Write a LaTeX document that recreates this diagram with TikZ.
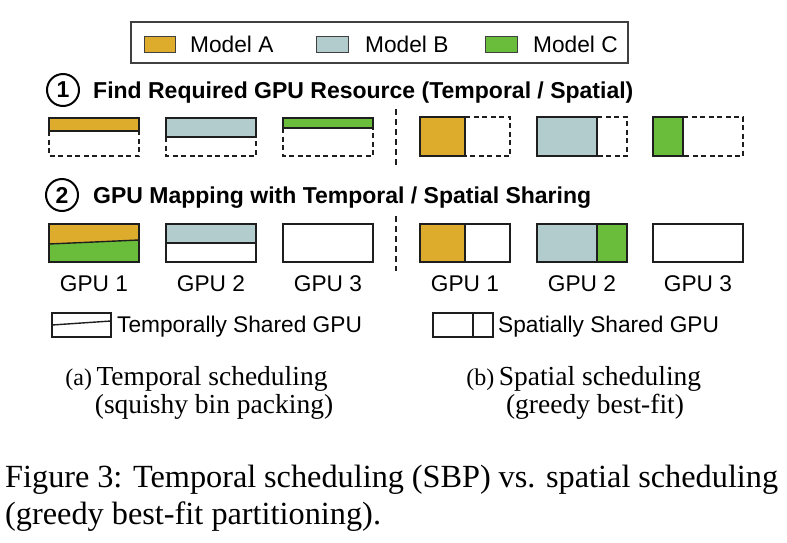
\documentclass[tikz,border=0pt]{standalone}
\usepackage{fontspec}
\setmainfont{Liberation Serif}
\setsansfont{Liberation Sans}
\definecolor{modelA}{RGB}{222,172,44}
\definecolor{modelB}{RGB}{178,204,206}
\definecolor{modelC}{RGB}{106,189,58}
\definecolor{edge}{RGB}{30,30,30}
\newcommand{\sansfs}{\sffamily\fontsize{22.7}{27}\selectfont}
\newcommand{\headfs}{\sffamily\bfseries\fontsize{23}{27}\selectfont}
\newcommand{\subfs}{\rmfamily\fontsize{27.5}{28}\selectfont}
\newcommand{\tagfs}{\rmfamily\fontsize{24}{26}\selectfont}
\newcommand{\capfs}{\rmfamily\fontsize{32.3}{36}\selectfont}

\tikzset{
  gpubox/.style={draw=edge, line width=1.4pt},
  freebox/.style={draw=edge, line width=1.4pt, dash pattern=on 5pt off 3.5pt},
  divider/.style={draw=edge, line width=1.2pt, dash pattern=on 6pt off 4pt},
  legframe/.style={draw=black!75, line width=1.4pt},
  swatch/.style={draw=black!75, line width=1pt},
  legtext/.style={font=\sansfs, inner sep=0pt},
  gpulabel/.style={font=\sansfs, inner sep=0pt, anchor=base},
  headtext/.style={font=\headfs, inner sep=0pt, anchor=base west},
  stepnum/.style={circle, draw=black, line width=2pt, minimum size=32pt, inner sep=0pt, font=\headfs},
  subcap/.style={font=\subfs, inner sep=0pt, anchor=base},
  subtag/.style={font=\tagfs, inner sep=0pt, anchor=base east},
  figcap/.style={font=\capfs, inner sep=0pt, anchor=base west}
}

\begin{document}
\begin{tikzpicture}[x=1pt, y=-1pt]
\useasboundingbox (0,0) rectangle (787,542);

% legend
\draw[legframe] (131,22) rectangle (628,63);
\filldraw[swatch, fill=modelA] (144,36) rectangle (175,52);
\filldraw[swatch, fill=modelB] (316,36) rectangle (348,52);
\filldraw[swatch, fill=modelC] (485,36) rectangle (517,52);
\node[legtext, anchor=west] (legA) at (190,44) {Model A};
\node[legtext, anchor=west] (legB) at (365,44) {Model B};
\node[legtext, anchor=west] (legC) at (533,44) {Model C};

% step 1: required resource
\node[stepnum] (num1) at (63,90) {1};
\node[headtext] (head1) at (93,98) {Find Required GPU Resource (Temporal / Spatial)};

\fill[modelA] (49,118) rectangle (139,131);
\draw[gpubox] (49,118) rectangle (139,131);
\draw[freebox] (49,131) -- (49,156) -- (139,156) -- (139,131);
\fill[modelB] (166,118) rectangle (256,137);
\draw[gpubox] (166,118) rectangle (256,137);
\draw[freebox] (166,137) -- (166,156) -- (256,156) -- (256,137);
\fill[modelC] (283,118) rectangle (373,128);
\draw[gpubox] (283,118) rectangle (373,128);
\draw[freebox] (283,128) -- (283,156) -- (373,156) -- (373,128);

\draw[divider] (396,109) -- (396,166);

\fill[modelA] (420,117) rectangle (465,156);
\draw[gpubox] (420,117) rectangle (465,156);
\draw[freebox] (465,117) -- (510,117) -- (510,156) -- (465,156);
\fill[modelB] (537,117) rectangle (597,156);
\draw[gpubox] (537,117) rectangle (597,156);
\draw[freebox] (597,117) -- (627,117) -- (627,156) -- (597,156);
\fill[modelC] (653,117) rectangle (683,156);
\draw[gpubox] (653,117) rectangle (683,156);
\draw[freebox] (683,117) -- (743,117) -- (743,156) -- (683,156);

% step 2: mapping
\node[stepnum] (num2) at (62,195) {2};
\node[headtext] (head2) at (93,203) {GPU Mapping with Temporal / Spatial Sharing};

\fill[modelA] (49,224) -- (139,224) -- (139,240) -- (49,244) -- cycle;
\fill[modelC] (49,244) -- (139,240) -- (139,262) -- (49,262) -- cycle;
\draw[gpubox] (49,244) -- (139,240);
\draw[gpubox] (49,224) rectangle (139,262);
\fill[modelB] (166,224) rectangle (256,243);
\draw[gpubox] (166,243) -- (256,243);
\draw[gpubox] (166,224) rectangle (256,262);
\draw[gpubox] (283,224) rectangle (373,262);

\draw[divider] (396,216) -- (396,271);

\fill[modelA] (420,224) rectangle (465,262);
\draw[gpubox] (465,224) -- (465,262);
\draw[gpubox] (420,224) rectangle (510,262);
\fill[modelB] (537,224) rectangle (597,262);
\fill[modelC] (597,224) rectangle (627,262);
\draw[gpubox] (597,224) -- (597,262);
\draw[gpubox] (537,224) rectangle (627,262);
\draw[gpubox] (653,224) rectangle (743,262);

\node[gpulabel] (tgpu1) at (94,291.5) {GPU 1};
\node[gpulabel] (tgpu2) at (211,291.5) {GPU 2};
\node[gpulabel] (tgpu3) at (328,291.5) {GPU 3};
\node[gpulabel] (sgpu1) at (465,291.5) {GPU 1};
\node[gpulabel] (sgpu2) at (582,291.5) {GPU 2};
\node[gpulabel] (sgpu3) at (698,291.5) {GPU 3};

% sharing legend
\draw[gpubox] (52,313) rectangle (111,337);
\draw[gpubox] (52,325) -- (111,321);
\node[legtext, anchor=base west] (legtemp) at (117,332) {Temporally Shared GPU};
\draw[gpubox] (433,313) rectangle (493,337);
\draw[gpubox] (473,313) -- (473,337);
\node[legtext, anchor=base west] (legspat) at (498,332) {Spatially Shared GPU};

% sub-captions
\node[subcap] (capa1) at (212,385) {Temporal scheduling};
\node[subcap] (capa2) at (214,413) {(squishy bin packing)};
\node[subtag] (capa) at (capa1.base west) {(a)\,};
\node[subcap] (capb1) at (600,385) {Spatial scheduling};
\node[subcap] (capb2) at (595,413) {(greedy best-fit)};
\node[subtag] (capb) at (capb1.base west) {(b)\,};

% figure caption
\node[figcap] (fig1) at (5,487) {\makebox[773pt][s]{Figure 3: Temporal scheduling (SBP) vs. spatial scheduling}};
\node[figcap] (fig2) at (5,524) {(greedy best-fit partitioning).};

\end{tikzpicture}
\end{document}
